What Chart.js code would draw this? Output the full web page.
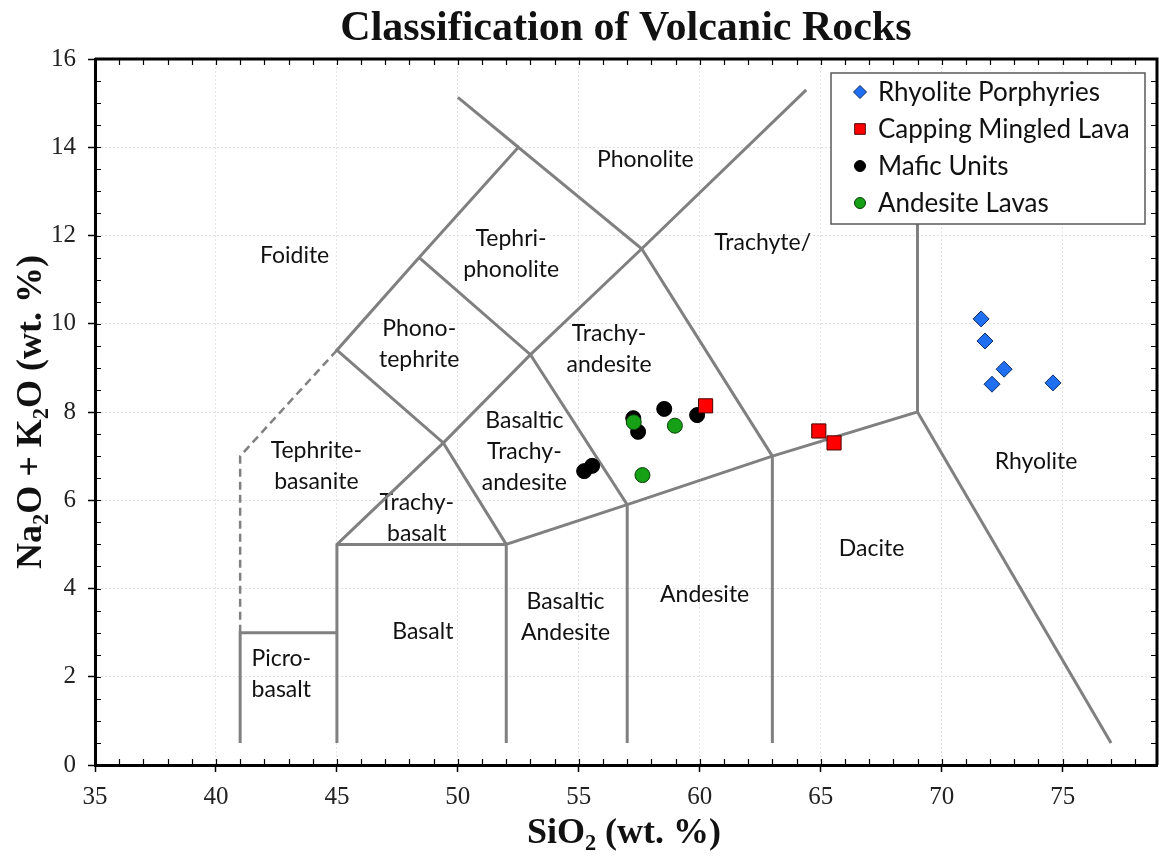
<!DOCTYPE html>
<html>
<head>
<meta charset="utf-8">
<title>Classification of Volcanic Rocks</title>
<script src="https://cdn.jsdelivr.net/npm/chart.js@4/dist/chart.umd.min.js"></script>
<style>
  html, body { margin: 0; padding: 0; background: #fff; overflow: hidden; }
  #wrap { width: 1159px; height: 861px; }
</style>
</head>
<body>
<div id="wrap"><canvas id="tas"></canvas></div>
<script>
// ---- Sample analyses (SiO2 wt.%, Na2O+K2O wt.%) ----
const rhyolitePorphyries = [
  {x: 71.63, y: 10.11}, {x: 71.79, y: 9.61}, {x: 72.58, y: 8.97},
  {x: 72.08, y: 8.63}, {x: 74.60, y: 8.66}
];
const cappingMingledLava = [
  {x: 60.24, y: 8.14}, {x: 64.92, y: 7.57}, {x: 65.55, y: 7.30}
];
const maficUnits = [
  {x: 58.53, y: 8.07}, {x: 57.25, y: 7.86}, {x: 57.45, y: 7.55},
  {x: 59.89, y: 7.93}, {x: 55.55, y: 6.78}, {x: 55.22, y: 6.66}
];
const andesiteLavas = [
  {x: 57.27, y: 7.77}, {x: 58.97, y: 7.69}, {x: 57.63, y: 6.57}
];

// ---- TAS field boundaries (Le Bas et al. 1986) ----
const solidBoundaries = [
  [[41, 0.5], [41, 3], [45, 3]],
  [[45, 0.5], [45, 5], [49.4, 7.3], [53, 9.3], [57.6, 11.7], [64.4, 15.3]],
  [[52, 0.5], [52, 5], [57, 5.9], [63, 7], [69, 8], [69, 13]],
  [[45, 5], [52, 5]],
  [[52, 5], [49.4, 7.3], [45, 9.4], [48.4, 11.5], [52.5, 14], [57.6, 11.7], [63, 7]],
  [[50, 15.13], [52.5, 14]],
  [[48.4, 11.5], [53, 9.3], [57, 5.9], [57, 0.5]],
  [[63, 0.5], [63, 7]],
  [[69, 8], [77, 0.5]]
];
const dashedBoundaries = [
  [[41, 3], [41, 7], [45, 9.4]]
];

// ---- Field names: text lines and anchor (SiO2, alkali) ----
const fieldNames  = ['Phonolite', 'Foidite', 'Tephri-\nphonolite', 'Trachyte/', 'Phono-\ntephrite',
                     'Trachy-\nandesite', 'Rhyolite', 'Tephrite-\nbasanite', 'Basaltic\nTrachy-\nandesite',
                     'Trachy-\nbasalt', 'Dacite', 'Basaltic\nAndesite', 'Andesite', 'Basalt', 'Picro-\nbasalt'];
const fieldSiO2   = [57.75, 43.25, 52.2, 62.6, 48.4, 56.25, 73.9, 44.15, 52.75, 48.3, 67.1, 54.45, 60.2, 48.55, 42.7];
const fieldAlkali = [13.72, 11.55, 11.58, 11.84, 9.53, 9.42, 6.88, 6.78, 7.1, 5.6, 4.9, 3.36, 3.87, 3.03, 2.06];

// ---- Axis ticks ----
const xTickStep = 5, yTickStep = 2;
const xMinorStep = 1, yMinorStep = 0.5;

const GRAY = '#808080';
const boundaryDatasets = [];
solidBoundaries.forEach(pts => boundaryDatasets.push({
  label: '', data: pts.map(p => ({x: p[0], y: p[1]})), showLine: true,
  borderColor: GRAY, borderWidth: 3, pointRadius: 0, order: 20, borderCapStyle: 'butt', borderJoinStyle: 'miter'
}));
dashedBoundaries.forEach(pts => boundaryDatasets.push({
  label: '', data: pts.map(p => ({x: p[0], y: p[1]})), showLine: true, borderDash: [8, 5],
  borderColor: GRAY, borderWidth: 2.5, pointRadius: 0, order: 20
}));

const sampleDatasets = [
  {label: 'Rhyolite Porphyries', data: rhyolitePorphyries, pointStyle: 'rectRot', pointRadius: 8,
   backgroundColor: '#1f6ff0', borderColor: '#0d2c66', borderWidth: 1, order: 4},
  {label: 'Capping Mingled Lava', data: cappingMingledLava, pointStyle: 'rect', pointRadius: 10,
   backgroundColor: '#ff0000', borderColor: '#4a0000', borderWidth: 1, order: 1},
  {label: 'Mafic Units', data: maficUnits, pointStyle: 'circle', pointRadius: 7.5,
   backgroundColor: '#000000', borderColor: '#000000', borderWidth: 1, order: 3},
  {label: 'Andesite Lavas', data: andesiteLavas, pointStyle: 'circle', pointRadius: 7.5,
   backgroundColor: '#16a016', borderColor: '#073d07', borderWidth: 1, order: 2}
];

function drawRich(ctx, parts, x, y, size, family) {
  // parts: [text, isSubscript]
  const widths = parts.map(p => {
    ctx.font = 'bold ' + (p[1] ? size * 0.62 : size) + 'px ' + family;
    return ctx.measureText(p[0]).width;
  });
  const total = widths.reduce((a, b) => a + b, 0);
  let cx = x - total / 2;
  parts.forEach((p, i) => {
    ctx.font = 'bold ' + (p[1] ? size * 0.62 : size) + 'px ' + family;
    ctx.fillText(p[0], cx, p[1] ? y + size * 0.2 : y);
    cx += widths[i];
  });
}

const tasDecor = {
  id: 'tasDecor',
  beforeDatasetsDraw(chart) {
    const {ctx, scales: {x, y}} = chart;
    ctx.save();
    ctx.fillStyle = '#111';
    ctx.font = '23px Lato';
    ctx.textAlign = 'center';
    ctx.textBaseline = 'middle';
    const lh = 31;
    fieldNames.forEach((name, i) => {
      const lines = name.split('\n');
      const px = x.getPixelForValue(fieldSiO2[i]);
      const py = y.getPixelForValue(fieldAlkali[i]);
      lines.forEach((t, k) => ctx.fillText(t, px, py + (k - (lines.length - 1) / 2) * lh));
    });
    ctx.restore();
  },
  afterDatasetsDraw(chart) {
    const {ctx, chartArea: a, scales: {x, y}} = chart;
    ctx.save();
    // minor ticks, pointing inward on all four sides
    ctx.strokeStyle = '#000';
    ctx.lineWidth = 1.2;
    ctx.beginPath();
    for (let v = x.min; v <= x.max + 1e-9; v += xMinorStep) {
      const px = Math.round(x.getPixelForValue(v)) + 0.5;
      ctx.moveTo(px, a.bottom); ctx.lineTo(px, a.bottom - 6);
      ctx.moveTo(px, a.top); ctx.lineTo(px, a.top + 6);
    }
    for (let v = y.min; v <= y.max + 1e-9; v += yMinorStep) {
      const py = Math.round(y.getPixelForValue(v)) + 0.5;
      ctx.moveTo(a.left, py); ctx.lineTo(a.left + 6, py);
      ctx.moveTo(a.right, py); ctx.lineTo(a.right - 6, py);
    }
    ctx.stroke();
    // top and right frame
    ctx.lineWidth = 3;
    ctx.beginPath();
    ctx.moveTo(a.left, a.top); ctx.lineTo(a.right, a.top); ctx.lineTo(a.right, a.bottom);
    ctx.stroke();

    // legend box inside the plot
    const bw = 314, bh = 151;
    const bx = a.right - 12 - bw, by = a.top + 14;
    ctx.fillStyle = '#fff';
    ctx.fillRect(bx, by, bw, bh);
    ctx.strokeStyle = '#5a5a5a';
    ctx.lineWidth = 1.5;
    ctx.strokeRect(bx, by, bw, bh);
    ctx.font = '26px Lato';
    ctx.textAlign = 'left';
    ctx.textBaseline = 'middle';
    sampleDatasets.forEach((ds, i) => {
      const cy = by + 19 + i * 37;
      const cx = bx + 29;
      ctx.fillStyle = ds.backgroundColor;
      ctx.strokeStyle = ds.borderColor;
      ctx.lineWidth = 1;
      const r = ds.pointStyle === 'rect' ? 7.5 : (ds.pointStyle === 'rectRot' ? 6.5 : 5.5);
      Chart.helpers.drawPoint(ctx, {pointStyle: ds.pointStyle, radius: r, rotation: 0, borderWidth: 1}, cx, cy);
      ctx.fillStyle = '#111';
      ctx.fillText(ds.label, bx + 47, cy + 1);
    });
    ctx.restore();
  },
  afterDraw(chart) {
    const {ctx, chartArea: a} = chart;
    ctx.save();
    ctx.fillStyle = '#111';
    ctx.textAlign = 'left';
    ctx.textBaseline = 'alphabetic';
    const fam = '"Liberation Serif", "Times New Roman", serif';
    drawRich(ctx, [['SiO', false], ['2', true], [' (wt. %)', false]], 624, 843, 36, fam);
    ctx.translate(41, (a.top + a.bottom) / 2);
    ctx.rotate(-Math.PI / 2);
    drawRich(ctx, [['Na', false], ['2', true], ['O + K', false], ['2', true], ['O (wt. %)', false]], 0, 0, 36, fam);
    ctx.restore();
  }
};

const serif = '"Liberation Serif", "Times New Roman", serif';

new Chart(document.getElementById('tas'), {
  type: 'scatter',
  data: { datasets: sampleDatasets.concat(boundaryDatasets) },
  options: {
    responsive: true,
    maintainAspectRatio: false,
    animation: false,
    layout: { autoPadding: false, padding: { left: 0, right: 2, top: 0, bottom: 0 } },
    plugins: {
      legend: { display: false },
      tooltip: { enabled: false },
      title: {
        display: true, fullSize: false,
        text: 'Classification of Volcanic Rocks',
        color: '#111',
        font: { family: serif, size: 42, weight: 'bold', lineHeight: 1.2 },
        padding: { top: 4, bottom: 4.6 }
      }
    },
    scales: {
      x: {
        type: 'linear', min: 35, max: 78.9,
        ticks: { stepSize: xTickStep, includeBounds: false, color: '#222', padding: 10,
                 font: { family: serif, size: 25 } },
        grid: { color: '#e2e2e2', lineWidth: 1, drawTicks: true, tickLength: 7, tickColor: '#000', tickWidth: 1.5 },
        border: { display: true, color: '#000', width: 3, dash: [2, 2] },
        afterFit(s) { s.height = 96; s.paddingLeft = 0; s.paddingRight = 0; }
      },
      y: {
        type: 'linear', min: 0, max: 16,
        ticks: { stepSize: yTickStep, color: '#222', padding: 12,
                 font: { family: serif, size: 25 } },
        grid: { color: '#e2e2e2', lineWidth: 1, drawTicks: true, tickLength: 7, tickColor: '#000', tickWidth: 1.5 },
        border: { display: true, color: '#000', width: 3, dash: [2, 2] },
        afterFit(s) { s.width = 95; s.paddingTop = 0; s.paddingBottom = 0; }
      }
    }
  },
  plugins: [tasDecor]
});
</script>
</body>
</html>
